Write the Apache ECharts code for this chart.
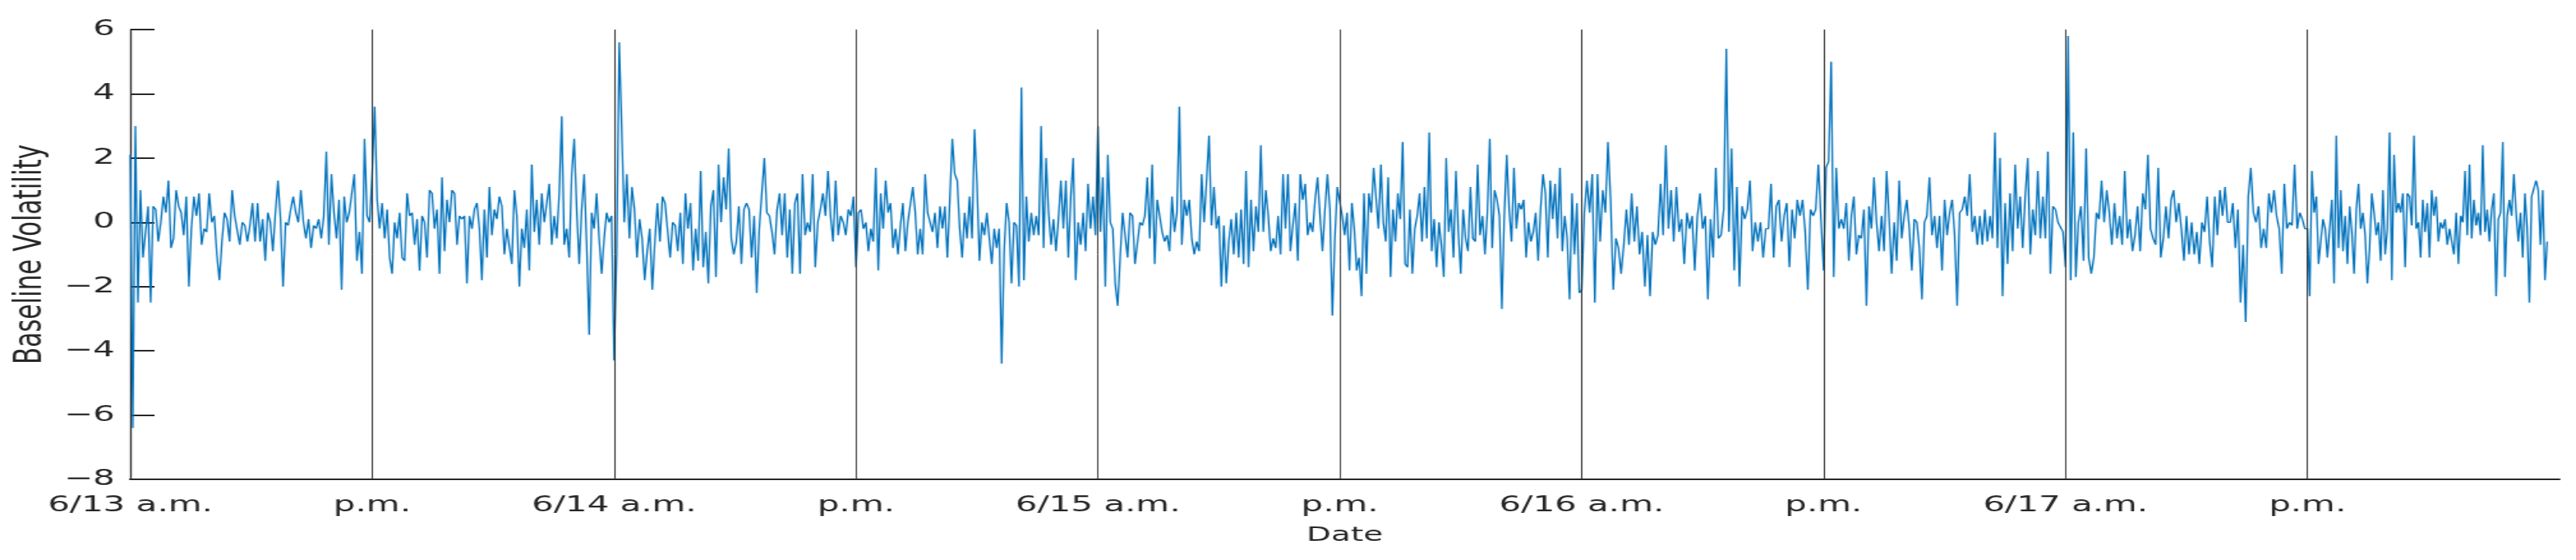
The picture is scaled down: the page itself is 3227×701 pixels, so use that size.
<!DOCTYPE html>
<html>
<head>
<meta charset="utf-8">
<script src="https://cdn.jsdelivr.net/npm/echarts@6/dist/echarts.min.js"></script>
<style>
  html, body { margin: 0; padding: 0; background: #fff; overflow: hidden; }
  /* the source figure is stretched sideways, so the chart is drawn narrow and widened */
  #chart { width: 2017px; height: 701px; transform: scaleX(1.59990); transform-origin: 0 0; }
</style>
</head>
<body>
<div id="chart"></div>
<script>
// one array per half day
const h0 = [2.1,-6.4,3.0,-2.5,1.0,-1.1,-0.3,0.5,-2.5,0.5,0.4,-0.6,0.0,0.8,0.3,1.3,-0.8,-0.5,1.0,0.5,0.3,-0.4,0.8,-2.0,-0.2,0.8,0.2,0.9,-0.7,-0.2,-0.3,0.9,0.0,0.2,-1.0,-1.8,-0.6,0.3,0.1,-0.6,1.0,0.2,0.2,-0.7,0.0,-0.1,-0.6,-0.1,0.6,-0.6,0.6,-0.6,0.1,-1.2,0.3,0.0,-0.9,0.3,1.3,0.1,-2.0,0.0,-0.1,0.4,0.8,0.3,0.0,1.0,0.0,-0.5,0.1,-0.8,-0.1,-0.2,0.1,-0.5,0.2,2.2,-0.7,1.5,0.3,-0.5,0.7,-2.1,0.8,0.0,0.3,0.3,1.5,-1.2,-0.3,-1.6,2.6,0.2,0.0]
const h1 = [1.5,3.6,0.7,-0.2,0.6,-0.5,0.4,-1.1,-1.6,0.0,-0.5,0.3,-1.1,-1.2,0.9,0.2,0.3,-0.7,0.1,-1.5,0.2,0.0,-1.1,1.0,0.9,-0.2,0.4,-1.6,1.4,-0.9,0.7,0.0,1.0,0.9,-0.7,0.2,0.1,0.2,-1.9,0.2,-0.2,0.4,0.6,-0.2,-1.8,0.4,-1.1,1.1,-0.4,0.4,0.1,0.8,0.5,-1.0,-0.2,-0.2,-1.3,1.0,0.2,-2.0,-0.2,-0.8,0.4,-1.5,1.8,-0.3,0.7,-0.7,0.9,0.0,0.0,1.2,-0.7,0.2,-0.5,0.9,3.3,-0.7,-0.2,-1.1,1.5,2.6,0.4,-1.3,0.4,1.5,-0.7,-3.5,0.3,-0.2,0.9,-0.5,-1.6,-0.5,0.3,0.0,0.2]
const h2 = [-4.3,-1.0,5.6,2.9,0.0,1.5,-0.5,1.1,0.4,-1.1,0.1,-0.5,-1.8,-0.9,-0.2,-2.1,-0.6,0.6,-0.6,0.8,0.6,0.6,-1.1,0.0,-0.1,-0.9,0.3,-1.3,0.9,-0.2,0.6,-1.5,-0.2,-1.2,1.6,-1.4,-0.3,-1.9,0.5,1.0,-1.7,1.8,0.0,1.4,0.4,2.3,-0.5,-1.0,-0.6,0.5,-1.3,0.4,0.6,0.4,-1.1,0.2,-2.2,-0.2,-0.2,2.0,0.3,0.2,-0.3,-1.0,0.4,0.9,-0.4,0.9,-1.1,0.4,-1.6,0.6,0.9,-1.6,1.5,-0.4,0.0,-0.3,1.5,-1.4,0.0,0.4,0.9,0.2,1.6,0.2,-0.6,1.3,-0.4,0.2,0.0,-0.4,0.4,0.2,0.8]
const h3 = [-1.4,0.3,0.4,-0.2,0.0,-0.9,-0.2,-0.6,1.7,-1.5,0.9,-0.2,1.3,0.3,0.6,-0.8,-0.2,-1.0,-0.1,0.6,-0.9,0.0,0.0,1.1,0.3,-1.0,-0.2,-1.0,1.5,0.3,0.3,-0.3,0.3,-0.8,0.5,-0.2,0.5,-1.1,0.7,2.6,1.5,1.3,-0.2,-1.1,0.3,-0.5,0.8,-0.5,2.9,1.2,-1.2,0.0,-0.4,0.3,-0.5,-1.3,-0.2,-0.8,-0.2,-4.4,-0.9,0.6,0.0,-1.9,0.0,-0.1,-2.0,4.2,-1.8,0.8,-0.6,0.3,-0.4,0.2,-0.4,3.0,-0.8,2.0,0.3,-0.7,0.1,-0.9,0.1,1.3,-0.2,1.3,-1.1,0.8,2.0,-1.8,0.0,-0.7,0.3,-0.9,1.2,-0.2,0.8,-0.4]
const h4 = [3.0,-0.3,1.4,-2.0,2.1,0.0,-0.2,-1.9,-2.6,-1.1,0.3,0.3,-1.1,0.3,0.2,-1.3,-1.3,0.0,-0.1,0.2,1.4,-0.5,1.8,-1.3,0.7,0.2,-0.3,-0.6,-0.4,-0.9,0.8,-0.3,0.3,3.6,-0.7,0.7,0.2,0.7,-0.5,-1.0,-0.6,-0.9,1.5,0.0,1.3,2.7,-0.1,1.1,-0.2,0.2,-2.0,-0.1,-1.9,-0.6,0.1,-1.0,0.3,-1.1,0.4,-1.3,1.6,-1.4,0.7,-0.9,0.5,-0.3,2.4,-0.3,1.0,0.2,-0.9,-0.5,-0.8,0.2,-1.0,1.5,-0.2,1.5,-0.9,-0.1,0.6,-1.2,1.5,0.7,1.2,-0.4,0.0,-0.3,0.7,1.4,0.2,-0.9,0.4,1.5,0.4,-2.9,-0.5,1.1]
const h5 = [1.1,0.2,-0.4,0.3,-1.5,0.6,-0.2,-1.5,-1.1,-2.3,0.9,-1.6,0.9,0.3,1.7,1.7,-0.2,1.8,0.0,-0.6,1.4,-1.7,0.4,-0.6,0.9,0.1,2.5,-1.3,-1.4,0.4,-1.6,-0.2,0.2,0.9,-0.6,1.1,-0.5,2.8,-0.9,0.1,-1.4,0.0,-0.7,-1.7,2.0,-0.3,0.4,-1.1,1.6,-0.3,-1.6,0.4,-0.5,-0.9,1.1,-0.5,-0.6,1.8,-0.4,0.2,-1.0,0.3,2.6,-0.8,1.0,0.7,0.2,-2.7,0.2,2.1,0.4,-0.6,1.7,-0.2,0.6,0.4,0.7,-1.1,0.0,-0.6,-0.3,0.3,-1.2,0.4,1.5,0.9,-1.1,1.3,0.1,1.2,-0.5,1.7,-0.9,0.2,-0.5,-2.4,0.9,-1.0,0.6,-2.2]
const h6 = [-2.1,0.3,1.3,0.3,1.5,-2.5,1.5,-0.6,1.0,0.3,2.5,0.7,-2.1,-0.5,-0.8,-1.6,-0.7,0.4,-0.7,0.9,-0.6,0.5,-1.0,-0.3,-2.0,-0.4,-2.3,-0.3,-0.7,-0.4,1.2,-0.4,2.4,-0.2,1.0,-0.6,1.1,-0.3,0.1,-1.3,0.3,-0.2,0.2,-1.5,0.2,0.9,-0.2,0.2,-2.4,0.1,-1.1,1.7,-0.5,-0.4,0.4,5.4,-0.3,2.3,-1.5,1.1,-2.0,0.5,0.1,0.4,1.3,-0.9,0.0,-0.6,0.0,-1.1,-0.2,-0.2,1.2,-1.1,0.5,0.7,-0.6,0.2,0.6,-1.4,0.4,-0.5,0.7,0.2,0.7,-0.3,-2.1,0.4,0.2,0.4,1.8,0.1]
const h7 = [-1.5,1.7,1.9,5.0,-1.7,1.7,-0.2,0.1,-0.2,0.6,-1.2,0.2,0.8,-1.0,-0.4,-0.5,0.4,-2.6,0.5,-0.2,1.4,0.0,-0.9,0.2,-0.9,1.6,0.1,-1.6,0.0,-1.2,1.3,-0.5,0.2,0.7,-0.2,-1.5,0.1,0.0,-0.8,-2.4,0.0,0.2,1.4,-0.4,0.2,-0.8,0.2,-1.5,0.7,-0.4,0.3,0.7,-0.4,-2.6,0.3,0.4,0.8,0.2,1.5,-0.3,0.2,-0.7,0.2,-0.7,0.4,-0.6,0.2,-0.5,2.8,-0.8,2.0,-2.3,0.6,-1.3,0.9,-0.9,1.8,-0.2,0.8,-0.8,0.8,2.0,-1.0,0.4,-0.4,1.6,-0.5,0.8,-0.5,2.2,-1.6,0.5,0.4,0.0,0.0,-0.3]
const h8 = [-1.4,5.8,-1.8,2.8,-1.7,0.0,0.5,-1.2,2.3,-1.1,-1.6,-1.1,0.3,0.1,1.3,0.0,1.0,0.3,-0.7,0.6,-0.5,0.2,-0.7,1.6,-0.5,0.1,-0.9,-0.4,0.5,-0.9,0.9,0.4,2.1,-0.2,-0.5,-0.7,1.7,-1.1,-0.5,0.5,-0.5,0.7,1.0,0.0,0.6,-0.2,-1.2,0.2,-1.0,0.0,-1.0,-0.3,-1.3,0.0,-0.3,0.8,-0.6,-1.4,0.8,-0.4,1.0,0.2,1.1,0.0,0.0,0.6,-0.8,0.4,-2.5,-0.7,-3.1,0.8,1.7,0.3,0.0,0.5,-0.8,-0.2,-0.8,0.9,0.3,1.0,0.2,-0.2,-1.6,1.2,-0.2,0.0,-0.1,1.8,-0.2,0.3,0.1,-0.2]
const h9 = [-0.2,-2.3,1.6,0.3,0.8,-1.3,-1.3,0.1,-0.2,-1.1,-0.2,0.7,-1.9,2.7,-0.8,1.0,-0.9,0.2,-1.3,0.5,-0.3,-1.6,0.4,1.2,-0.2,0.3,-0.4,-1.9,-0.8,0.9,0.3,-0.4,0.0,-1.2,1.0,-1.0,-0.2,2.8,-1.8,2.1,0.3,0.6,0.3,0.9,-1.4,0.9,0.8,-0.1,2.7,-0.2,0.0,-1.1,0.7,-0.3,0.6,-1.1,1.0,0.2,0.8,-0.6,0.0,-0.2,0.1,-0.7,-0.2,-0.2,-1.0,0.3,-1.3,0.2,0.0,1.6,-0.4,1.8,-0.5,0.7,-0.1,0.3,-0.4,2.4,-0.3,0.4,-0.6,0.4,0.9,-2.3,0.1,0.3,2.5,-1.7,0.2,0.7,0.2,1.5,0.3,-0.6,0.3,-1.1,0.9,-0.2,-2.5,0.8,0.8,1.3,1.0,-0.7,1.0,-1.8,-0.6]
const halfDays = [h0, h1, h2, h3, h4, h5, h6, h7, h8, h9]

// x tick labels, one every 12 hours
const tickLabels = ['6/13 a.m.', 'p.m.', '6/14 a.m.', 'p.m.', '6/15 a.m.', 'p.m.', '6/16 a.m.', 'p.m.', '6/17 a.m.', 'p.m.']
const yTicks = [-8, -6, -4, -2, 0, 2, 4, 6]

const HALF = 12
const ink = '#262626'

// each half-day's samples are spread evenly over its 12 hours
const points = []
halfDays.forEach((arr, k) => {
    arr.forEach((v, i) => {
        points.push([k * HALF + i * HALF / arr.length, v])
    })
})

const dividers = tickLabels.map((t, i) => i * HALF).filter(h => h > 0)

const option = {
    animation: false,
    backgroundColor: '#fff',
    grid: {
        left: 102,
        right: 13,
        top: 37,
        bottom: 101
    },
    xAxis: {
        type: 'value',
        min: 0,
        max: 120.5,
        interval: HALF,
        name: 'Date',
        nameLocation: 'middle',
        nameGap: 58,
        nameTextStyle: { color: ink, fontFamily: 'DejaVu Sans', fontSize: 25 },
        axisLine: { show: true, onZero: false, lineStyle: { color: ink, width: 2 } },
        axisTick: { show: false },
        splitLine: { show: false },
        axisLabel: {
            color: ink,
            fontFamily: 'DejaVu Sans',
            fontSize: 27,
            margin: 19,
            formatter: function (val) {
                const i = val / HALF
                return Number.isInteger(i) && i < tickLabels.length ? tickLabels[i] : ''
            }
        }
    },
    yAxis: {
        type: 'value',
        min: yTicks[0],
        max: yTicks[yTicks.length - 1],
        interval: 2,
        name: 'Baseline Volatility',
        nameLocation: 'middle',
        nameGap: 60,
        nameTextStyle: { color: ink, fontFamily: 'DejaVu Sans', fontSize: 31 },
        axisLine: { show: true, lineStyle: { color: ink, width: 1.3 } },
        axisTick: { show: true, inside: true, length: 19, lineStyle: { color: ink, width: 2 } },
        splitLine: { show: false },
        axisLabel: {
            color: ink,
            fontFamily: 'DejaVu Sans',
            fontSize: 27,
            margin: 12,
            formatter: v => String(v).replace('-', '\u2212')
        }
    },
    series: [{
        type: 'line',
        data: points,
        showSymbol: false,
        lineStyle: { color: '#0072BD', width: 1.3 },
        emphasis: { disabled: true },
        markLine: {
            silent: true,
            symbol: ['none', 'none'],
            label: { show: false },
            lineStyle: { color: '#262626', width: 0.9, type: 'solid' },
            data: dividers.map(h => ({ xAxis: h }))
        }
    }]
}

const chart = echarts.init(document.getElementById('chart'))
chart.setOption(option)
</script>
</body>
</html>
